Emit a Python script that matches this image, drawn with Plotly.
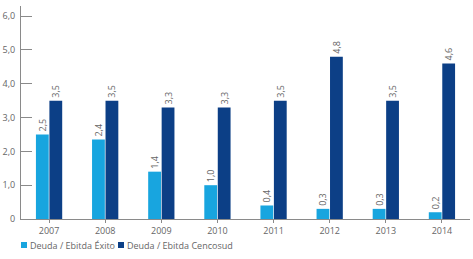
import plotly.graph_objects as go

years = ["2007", "2008", "2009", "2010", "2011", "2012", "2013", "2014"]
exito = [2.5, 2.35, 1.4, 1.0, 0.4, 0.3, 0.3, 0.2]
exito_labels = ["2,5", "2,4", "1,4", "1,0", "0,4", "0,3", "0,3", "0,2"]
cencosud = [3.5, 3.5, 3.3, 3.3, 3.5, 4.8, 3.5, 4.6]
cencosud_labels = ["3,5", "3,5", "3,3", "3,3", "3,5", "4,8", "3,5", "4,6"]
series_names = ["Deuda / Ebitda Éxito", "Deuda / Ebitda Cencosud"]
y_tickvals = [0, 1, 2, 3, 4, 5, 6]
y_ticktext = ["0", "1,0", "2,0", "3,0", "4,0", "5,0", "6,0"]

FONT = "Open Sans"
GREY = "#666666"
AXIS = "#8a8a8a"
COLORS = ["#18a5df", "#0c3f86"]

fig = go.Figure()
for name, vals, labels, col in [(series_names[0], exito, exito_labels, COLORS[0]),
                                (series_names[1], cencosud, cencosud_labels, COLORS[1])]:
    fig.add_trace(go.Bar(
        x=years, y=vals, name=name,
        marker=dict(color=col, line=dict(width=0)),
        text=labels, textposition="outside", textangle=-90,
        textfont=dict(size=9, color=GREY, family=FONT), cliponaxis=False,
        showlegend=False,
    ))

W, H = 473, 259
L, R, T, B = 21, 3, 6, 40
pw, ph = W - L - R, H - T - B

def px_x(p):
    return (p - L) / pw

def px_y(p):
    return (H - B - p) / ph

# Legend: small squares + labels
legend_items = [(21, 28), (118, 125)]
shapes = []
annotations = []
for (sq_x, tx_x), name, col in zip(legend_items, series_names, COLORS):
    shapes.append(dict(type="rect", xref="paper", yref="paper",
                       x0=px_x(sq_x), x1=px_x(sq_x + 6),
                       y0=px_y(248), y1=px_y(242),
                       fillcolor=col, line=dict(width=0)))
    annotations.append(dict(xref="paper", yref="paper", x=px_x(tx_x), y=px_y(245),
                            xanchor="left", yanchor="middle", showarrow=False,
                            text=name, font=dict(size=9, color=GREY, family=FONT)))

fig.update_layout(
    width=W, height=H,
    margin=dict(l=L, r=R, t=T, b=B),
    paper_bgcolor="white", plot_bgcolor="white",
    barmode="group", bargap=0.52, bargroupgap=0.05,
    font=dict(family=FONT, size=9, color=GREY),
    showlegend=False,
    shapes=shapes, annotations=annotations,
)
fig.update_xaxes(
    showline=True, linecolor=AXIS, linewidth=1, automargin=False,
    ticks="outside", ticklen=3, tickcolor=AXIS, tickwidth=1,
    showgrid=False, tickfont=dict(size=9, color=GREY, family=FONT),
)
fig.update_yaxes(
    range=[0, 6.3], showline=True, linecolor=AXIS, linewidth=1, automargin=False,
    ticks="inside", ticklen=11, tickcolor=AXIS, tickwidth=1,
    tickvals=y_tickvals, ticktext=y_ticktext,
    showgrid=False, zeroline=False, ticklabelstandoff=3,
    tickfont=dict(size=9, color=GREY, family=FONT),
)

fig.write_html("out.html", config={"displayModeBar": False},
               post_script="document.body.style.margin='0';document.body.style.overflow='hidden';")
